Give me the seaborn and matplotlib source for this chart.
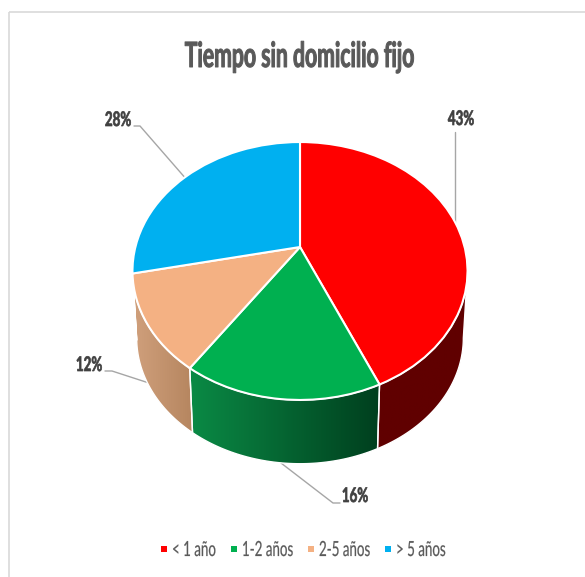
import numpy as np
import seaborn as sns
import matplotlib.pyplot as plt
from matplotlib.colors import LinearSegmentedColormap
from matplotlib.patches import Polygon, Rectangle
from matplotlib.patheffects import AbstractPathEffect
from matplotlib.transforms import Affine2D, Transform

categories = ["< 1 año", "1-2 años", "2-5 años", "> 5 años"]
percent = [43, 16, 12, 28]
title = "Tiempo sin domicilio fijo"

top_colors = ["#ff0000", "#00b050", "#f4b183", "#00b0f0"]
wall_colors = [("#600000", "#600000"), ("#0a8a45", "#003f1e"),
               ("#d0a07c", "#b5855f"), ("#00b0f0", "#00b0f0")]

sns.set_theme(style="white")
plt.rcParams["font.family"] = ["Lato", "DejaVu Sans"]

# pie seen in perspective: apex sits above the centre of the ellipse
CX, CY = 300, 247
A, B, K = 164.6, 124.5, 0.186
ELL_Y = 271
DROP = 67
SHRINK = 0.975


class Tilt(Transform):
    input_dims = output_dims = 2

    def transform_non_affine(self, values):
        u, v = np.asarray(values).T
        d = 1 + K * v
        return np.column_stack([CX + A * u / d, CY - B * v / d])


class Squeeze(AbstractPathEffect):
    # the original text is horizontally squashed, keep it real text anyway
    def __init__(self, sx, x, stroke=0.0):
        super().__init__()
        self.sx = sx
        self.x = x
        self.stroke = stroke

    def draw_path(self, renderer, gc, tpath, affine, rgbFace=None):
        squash = Affine2D().translate(-self.x, 0).scale(self.sx, 1).translate(self.x, 0)
        gc0 = renderer.new_gc()
        gc0.copy_properties(gc)
        gc0.set_linewidth(self.stroke)
        gc0.set_foreground(rgbFace)
        renderer.draw_path(gc0, tpath, affine + squash, rgbFace)
        gc0.restore()


def lower(pts):
    return np.column_stack([CX + (pts[:, 0] - CX) * SHRINK,
                            ELL_Y + DROP + (pts[:, 1] - ELL_Y) * SHRINK])


fig = plt.figure(figsize=(5.85, 5.77), dpi=100)
ax = fig.add_axes([0, 0, 1, 1])

wedges, _ = ax.pie(percent, colors=sns.color_palette(top_colors), startangle=90,
                   counterclock=False, wedgeprops=dict(edgecolor="white", linewidth=1.5, zorder=5))
ax.set_aspect("auto")

tilt = Tilt()
for wedge in wedges:
    wedge.set_transform(tilt + ax.transData)

# side wall, only the part that faces the viewer
edge = np.degrees(np.arcsin(K))
for wedge, (c0, c1) in zip(wedges, wall_colors):
    lo = max(wedge.theta1, -180 + edge)
    hi = min(wedge.theta2, -edge)
    if lo >= hi:
        continue
    th = np.radians(np.linspace(lo, hi, 60))
    upper = tilt.transform(np.column_stack([np.cos(th), np.sin(th)]))
    outline = np.vstack([upper, lower(upper)[::-1]])
    wall = Polygon(outline, closed=True, facecolor="none", edgecolor="white", linewidth=1, zorder=3)
    ax.add_patch(wall)
    x0, x1 = outline[:, 0].min(), outline[:, 0].max()
    y0, y1 = outline[:, 1].min(), outline[:, 1].max()
    cmap = LinearSegmentedColormap.from_list("wall", [c0, c1])
    im = ax.imshow(np.linspace(0, 1, 128)[None, :], cmap=cmap, aspect="auto",
                   extent=(x0, x1, y1, y0), zorder=2, interpolation="bilinear")
    im.set_clip_path(wall)

# leader lines and value labels
leaders = [([454.5, 454.5], [132, 222]),
           ([281, 333, 340], [463, 503, 503]),
           ([105, 112, 152], [371, 371, 384]),
           ([134, 140, 187], [126, 126, 180])]
label_pos = [(461, 119), (355, 496), (89, 365), (118, 120)]
for (lx, ly), (tx, ty), p in zip(leaders, label_pos, percent):
    ax.plot(lx, ly, color="#a6a6a6", linewidth=1, zorder=1)
    ax.text(tx, ty, f"{p}%", ha="center", va="center", fontsize=14.5, fontweight="bold",
            color="#404040", path_effects=[Squeeze(0.66, tx, 0.5)])

ax.text(299.5, 57, title, ha="center", va="center", fontsize=25, fontweight="bold",
        color="#595959", path_effects=[Squeeze(0.61, 299.5, 0.7)])

# legend row
marker_x = [164, 234, 311, 388]
for mx, name, c in zip(marker_x, categories, top_colors):
    ax.plot([mx], [549], linestyle="none", marker="s", markersize=4.5, color=c, markeredgewidth=0)
    ax.text(mx + 8, 550, name, ha="left", va="center", fontsize=15, color="#595959",
            path_effects=[Squeeze(0.64, mx + 8, 0.15)])

# chart border
ax.add_patch(Rectangle((8.5, 11.5), 640, 640, facecolor="none", edgecolor="#d9d9d9", linewidth=1.2))

ax.set_xlim(0, 585)
ax.set_ylim(577, 0)
ax.set_axis_off()

fig.savefig("out.png", dpi=100)
